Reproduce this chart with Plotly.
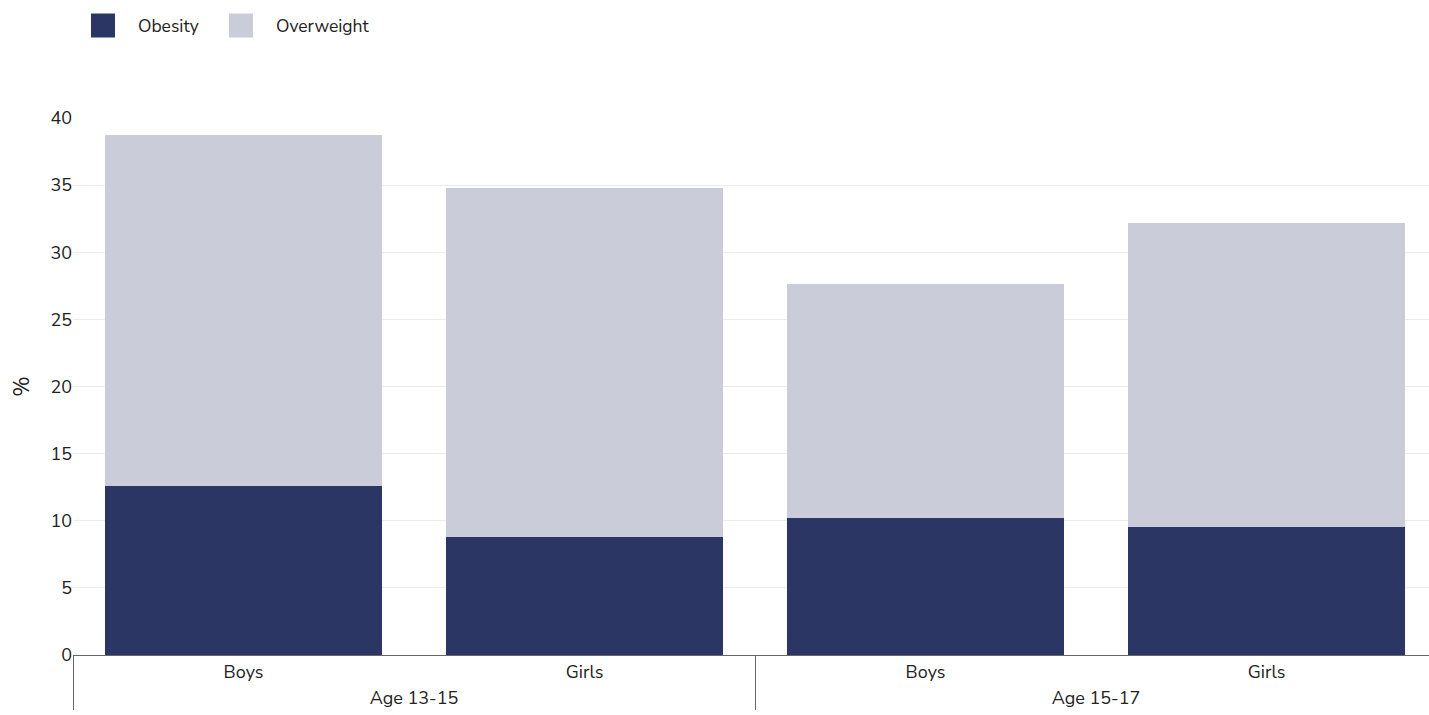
import plotly.graph_objects as go

age_groups = ["Age 13-15", "Age 13-15", "Age 15-17", "Age 15-17"]
sexes = ["Boys", "Girls", "Boys", "Girls"]
obesity = [12.6, 8.8, 10.2, 9.5]
overweight = [26.1, 26.0, 17.4, 22.7]
series_names = ["Obesity", "Overweight"]
series_colors = ["#2b3664", "#cacdd9"]

font_family = "Nunito Sans, Lato, Open Sans, sans-serif"

W, H = 1437, 715
L, R, T, B = 73, 0, 118, 60
pw, ph = W - L - R, H - T - B

fig = go.Figure()
for name, vals, col in zip(series_names, [obesity, overweight], series_colors):
    fig.add_trace(go.Bar(x=[age_groups, sexes], y=vals, name=name,
                         marker=dict(color=col, line=dict(width=0))))

# custom legend (large square swatches)
def px_x(p):
    return (p - L) / pw

def px_y(p):
    return 1 + (T - p) / ph

legend_x = [91, 229]
for name, col, x0 in zip(series_names, series_colors, legend_x):
    fig.add_shape(type="rect", xref="paper", yref="paper",
                  x0=px_x(x0), x1=px_x(x0 + 24), y0=px_y(37.5), y1=px_y(13.5),
                  fillcolor=col, line=dict(width=0))
    fig.add_annotation(xref="paper", yref="paper", x=px_x(x0 + 45), y=px_y(26),
                       text=name, showarrow=False, xanchor="left", yanchor="middle",
                       font=dict(size=17.5, color="#222"))

fig.update_layout(
    barmode="stack",
    bargap=0.185,
    width=W, height=H,
    margin=dict(l=L, r=R, t=T, b=B),
    paper_bgcolor="white", plot_bgcolor="white",
    font=dict(family=font_family, size=18, color="#222"),
    showlegend=False,
    yaxis=dict(range=[0, 40], dtick=5, gridcolor="#ececec", zeroline=False,
               showline=False, ticks="", title=dict(text="%", standoff=14),
               tickfont=dict(size=18)),
    xaxis=dict(showline=True, linecolor="#666", linewidth=1,
               showdividers=True, dividercolor="#666", dividerwidth=1,
               tickfont=dict(size=18)),
)
fig.write_html("out.html", config={"displayModeBar": False},
               post_script="document.body.style.margin='0';document.body.style.overflow='hidden';")
